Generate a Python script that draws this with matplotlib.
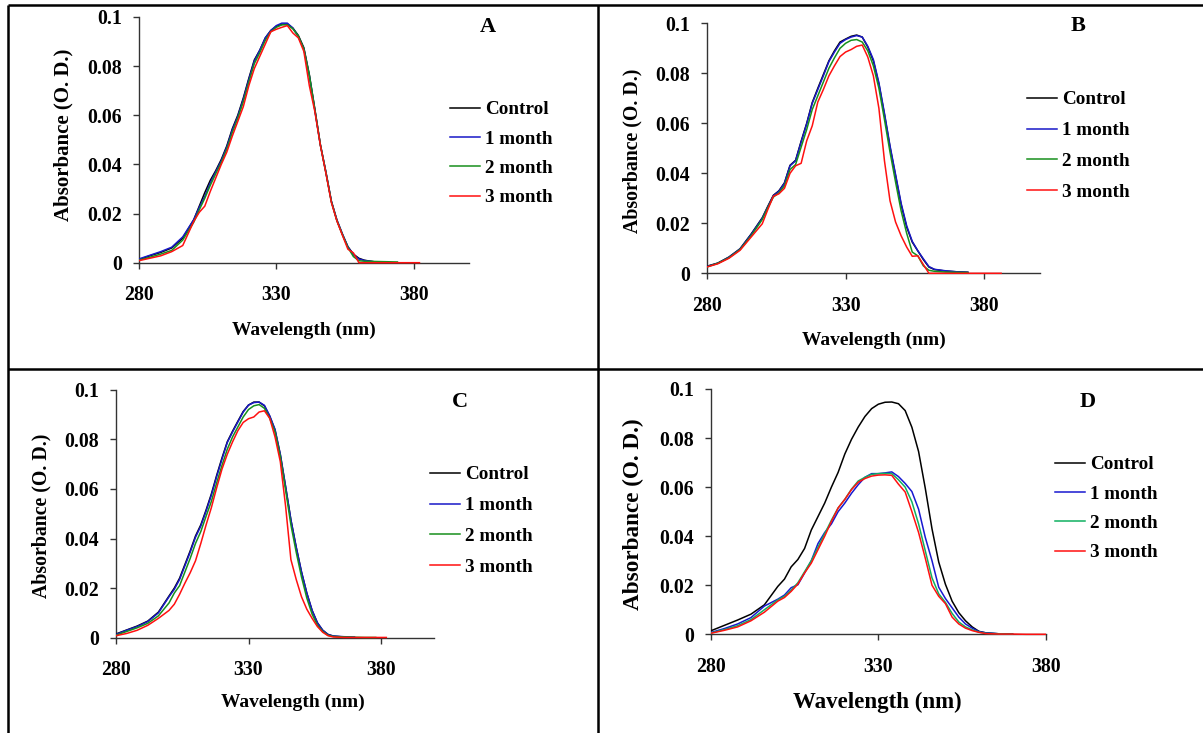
import numpy as np
import matplotlib
matplotlib.use('Agg')
import matplotlib.pyplot as plt
from matplotlib.lines import Line2D
from matplotlib.patches import Rectangle
from matplotlib.ticker import FuncFormatter

nan = np.nan

# wavelength grid (nm)
WL = [280, 284, 288, 292, 296, 300, 302, 304, 306, 308, 310, 312, 314, 316,
      318, 320, 322, 324, 326, 328, 330, 332, 334, 336, 338, 340, 342, 344,
      346, 348, 350, 352, 354, 356, 358, 360, 362, 366, 370, 374, 378, 382, 386]

# --- panel A ---
A_CONTROL = [0.0012, 0.0028, 0.0042, 0.0060, 0.0100, 0.0175, 0.0230, 0.0285, 0.0335, 0.0375, 0.0420, 0.0475, 0.0545, 0.0600,
             0.0670, 0.0750, 0.0825, 0.0865, 0.0915, 0.0945, 0.0962, 0.0970, 0.0972, 0.0955, 0.0925, 0.0875, 0.0765, 0.0625,
             0.0480, 0.0368, 0.0250, 0.0172, 0.0115, 0.0065, 0.0035, 0.0018, 0.0010, 0.0003, nan, nan, nan, nan, nan]
A_1M = [0.0015, 0.0030, 0.0045, 0.0063, 0.0105, 0.0175, 0.0225, 0.0270, 0.0325, 0.0370, 0.0415, 0.0470, 0.0540, 0.0595,
        0.0665, 0.0745, 0.0820, 0.0865, 0.0915, 0.0945, 0.0965, 0.0975, 0.0975, 0.0955, 0.0920, 0.0870, 0.0760, 0.0620,
        0.0480, 0.0370, 0.0250, 0.0175, 0.0118, 0.0065, 0.0032, 0.0015, 0.0009, 0.0003, nan, nan, nan, nan, nan]
A_2M = [0.0010, 0.0022, 0.0035, 0.0050, 0.0092, 0.0165, 0.0215, 0.0262, 0.0315, 0.0362, 0.0408, 0.0462, 0.0530, 0.0588,
        0.0655, 0.0735, 0.0810, 0.0855, 0.0905, 0.0940, 0.0958, 0.0968, 0.0968, 0.0952, 0.0922, 0.0870, 0.0762, 0.0622,
        0.0480, 0.0368, 0.0248, 0.0172, 0.0115, 0.0062, 0.0025, 0.0008, 0.0006, 0.0005, 0.0004, 0.0003, nan, nan, nan]
A_3M = [0.0008, 0.0018, 0.0028, 0.0045, 0.0070, 0.0168, 0.0205, 0.0230, 0.0290, 0.0345, 0.0400, 0.0450, 0.0515, 0.0575,
        0.0635, 0.0720, 0.0790, 0.0840, 0.0890, 0.0940, 0.0950, 0.0958, 0.0965, 0.0935, 0.0915, 0.0860, 0.0720, 0.0615,
        0.0478, 0.0365, 0.0245, 0.0170, 0.0112, 0.0055, 0.0040, 0.0000, 0.0000, 0.0000, 0.0000, 0.0000, 0.0000, 0.0000, nan]

# --- panel B ---
B_CONTROL = [0.0028, 0.0041, 0.0065, 0.0098, 0.0157, 0.0222, 0.0268, 0.0312, 0.0330, 0.0362, 0.0432, 0.0452, 0.0528, 0.0600,
             0.0683, 0.0740, 0.0795, 0.0850, 0.0890, 0.0925, 0.0937, 0.0948, 0.0953, 0.0945, 0.0905, 0.0850, 0.0757, 0.0635,
             0.0505, 0.0390, 0.0275, 0.0185, 0.0125, 0.0090, 0.0055, 0.0025, 0.0015, 0.0009, 0.0006, 0.0004, nan, nan, nan]
B_1M = [0.0027, 0.0040, 0.0064, 0.0097, 0.0155, 0.0220, 0.0265, 0.0310, 0.0328, 0.0360, 0.0430, 0.0450, 0.0525, 0.0597,
        0.0680, 0.0735, 0.0790, 0.0847, 0.0885, 0.0920, 0.0935, 0.0945, 0.0951, 0.0945, 0.0908, 0.0855, 0.0762, 0.0640,
        0.0510, 0.0395, 0.0280, 0.0190, 0.0128, 0.0090, 0.0058, 0.0027, 0.0016, 0.0010, 0.0006, 0.0004, nan, nan, nan]
B_2M = [0.0025, 0.0040, 0.0062, 0.0095, 0.0150, 0.0215, 0.0262, 0.0305, 0.0322, 0.0350, 0.0415, 0.0435, 0.0505, 0.0575,
        0.0655, 0.0710, 0.0765, 0.0820, 0.0862, 0.0900, 0.0920, 0.0932, 0.0935, 0.0925, 0.0890, 0.0830, 0.0740, 0.0615,
        0.0485, 0.0365, 0.0250, 0.0160, 0.0085, 0.0070, 0.0030, 0.0012, 0.0008, 0.0005, 0.0004, 0.0003, nan, nan, nan]
B_3M = [0.0025, 0.0038, 0.0060, 0.0092, 0.0145, 0.0198, 0.0255, 0.0308, 0.0318, 0.0340, 0.0400, 0.0430, 0.0440, 0.0530,
        0.0590, 0.0685, 0.0735, 0.0790, 0.0830, 0.0867, 0.0885, 0.0895, 0.0908, 0.0913, 0.0865, 0.0790, 0.0660, 0.0450,
        0.0290, 0.0205, 0.0150, 0.0105, 0.0068, 0.0070, 0.0035, 0.0000, 0.0000, 0.0000, 0.0000, 0.0000, 0.0000, 0.0000, 0.0000]

# --- panel C ---
C_CONTROL = [0.0015, 0.0031, 0.0047, 0.0067, 0.0103, 0.0168, 0.0200, 0.0240, 0.0295, 0.0350, 0.0410, 0.0455, 0.0515, 0.0580,
             0.0655, 0.0725, 0.0790, 0.0833, 0.0873, 0.0912, 0.0938, 0.0950, 0.0950, 0.0935, 0.0893, 0.0838, 0.0738, 0.0608,
             0.0475, 0.0365, 0.0265, 0.0180, 0.0110, 0.0060, 0.0030, 0.0013, 0.0006, 0.0003, nan, nan, nan, nan, nan]
C_1M = [0.0013, 0.0030, 0.0045, 0.0065, 0.0100, 0.0165, 0.0195, 0.0235, 0.0290, 0.0345, 0.0405, 0.0450, 0.0510, 0.0575,
        0.0650, 0.0720, 0.0787, 0.0830, 0.0870, 0.0910, 0.0938, 0.0948, 0.0950, 0.0937, 0.0895, 0.0840, 0.0740, 0.0610,
        0.0475, 0.0365, 0.0265, 0.0180, 0.0110, 0.0060, 0.0030, 0.0013, 0.0007, 0.0004, 0.0003, nan, nan, nan, nan]
C_2M = [0.0010, 0.0025, 0.0040, 0.0058, 0.0088, 0.0140, 0.0180, 0.0210, 0.0265, 0.0320, 0.0380, 0.0428, 0.0490, 0.0550,
        0.0625, 0.0695, 0.0760, 0.0810, 0.0850, 0.0890, 0.0920, 0.0935, 0.0940, 0.0925, 0.0885, 0.0830, 0.0730, 0.0595,
        0.0455, 0.0345, 0.0245, 0.0160, 0.0095, 0.0050, 0.0025, 0.0010, 0.0005, 0.0003, 0.0002, 0.0001, 0.0001, nan, nan]
C_3M = [0.0008, 0.0017, 0.0030, 0.0050, 0.0078, 0.0110, 0.0135, 0.0175, 0.0220, 0.0262, 0.0310, 0.0380, 0.0455, 0.0525,
        0.0605, 0.0680, 0.0740, 0.0790, 0.0835, 0.0868, 0.0883, 0.0890, 0.0910, 0.0915, 0.0885, 0.0810, 0.0710, 0.0530,
        0.0315, 0.0235, 0.0165, 0.0115, 0.0078, 0.0045, 0.0022, 0.0008, 0.0003, 0.0001, 0.0001, 0.0001, 0.0001, 0.0001, nan]

# --- panel D ---
D_CONTROL = [0.0014, 0.0036, 0.0058, 0.0082, 0.0120, 0.0195, 0.0225, 0.0275, 0.0305, 0.0350, 0.0425, 0.0480, 0.0535, 0.0600,
             0.0660, 0.0735, 0.0795, 0.0845, 0.0888, 0.0920, 0.0938, 0.0946, 0.0947, 0.0940, 0.0912, 0.0844, 0.0745, 0.0595,
             0.0430, 0.0295, 0.0204, 0.0135, 0.0088, 0.0055, 0.0030, 0.0012, 0.0006, 0.0002, 0.0001, nan, nan, nan, nan]
D_1M = [0.0007, 0.0023, 0.0042, 0.0068, 0.0115, 0.0143, 0.0160, 0.0190, 0.0202, 0.0250, 0.0300, 0.0370, 0.0415, 0.0450,
        0.0500, 0.0535, 0.0575, 0.0610, 0.0640, 0.0655, 0.0655, 0.0658, 0.0662, 0.0643, 0.0615, 0.0582, 0.0510, 0.0395,
        0.0300, 0.0192, 0.0146, 0.0108, 0.0070, 0.0042, 0.0025, 0.0011, 0.0006, 0.0002, 0.0001, nan, nan, nan, nan]
D_2M = [0.0005, 0.0019, 0.0035, 0.0060, 0.0100, 0.0140, 0.0155, 0.0180, 0.0210, 0.0255, 0.0300, 0.0355, 0.0410, 0.0465,
        0.0515, 0.0550, 0.0592, 0.0625, 0.0640, 0.0652, 0.0655, 0.0656, 0.0655, 0.0630, 0.0600, 0.0540, 0.0450, 0.0340,
        0.0230, 0.0165, 0.0130, 0.0085, 0.0050, 0.0030, 0.0018, 0.0009, 0.0004, 0.0002, 0.0001, nan, nan, nan, nan]
D_3M = [0.0004, 0.0016, 0.0030, 0.0055, 0.0090, 0.0135, 0.0150, 0.0175, 0.0205, 0.0250, 0.0290, 0.0345, 0.0400, 0.0460,
        0.0515, 0.0550, 0.0590, 0.0620, 0.0635, 0.0645, 0.0649, 0.0650, 0.0648, 0.0612, 0.0580, 0.0500, 0.0415, 0.0310,
        0.0200, 0.0155, 0.0125, 0.0070, 0.0042, 0.0025, 0.0015, 0.0008, 0.0003, 0.0001, 0.0001, 0.0000, 0.0000, 0.0000, nan]

LABELS = ['Control', '1 month', '2 month', '3 month']
COLORS = ['#000000', '#1818c8', '#17901c', '#ff1010']
D_COLORS = ['#000000', '#1818d0', '#10b060', '#ff1010']
X_TICKS = [280, 330, 380]
Y_TICKS = [0, 0.02, 0.04, 0.06, 0.08, 0.1]

W, H = 1203, 733
plt.rcParams['font.family'] = ['Liberation Serif', 'DejaVu Serif']
plt.rcParams['font.weight'] = 'bold'

fig = plt.figure(figsize=(W / 100, H / 100), dpi=100)


def fx(x):
    return x / W


def fy(y):
    return 1 - y / H


# layout in pixels: axes box (left, top, right, bottom), letter centre, legend top-left
panels = [
    dict(letter='A', data=[A_CONTROL, A_1M, A_2M, A_3M], colors=COLORS,
         box=(138.7, 17, 469, 262.7), xmax=400, let=(488, 27), leg=(450, 101), lsp=0.62,
         ylab=(-0.229, 0.52, 15.0), xlab=(0.50, -0.274, 14.0)),
    dict(letter='B', data=[B_CONTROL, B_1M, B_2M, B_3M], colors=COLORS,
         box=(706.7, 23.3, 1040, 273.3), xmax=400, let=(1078, 26), leg=(1027, 91), lsp=0.7,
         ylab=(-0.224, 0.49, 14.3), xlab=(0.502, -0.267, 14.0)),
    dict(letter='C', data=[C_CONTROL, C_1M, C_2M, C_3M], colors=COLORS,
         box=(116, 389.7, 434, 637.7), xmax=400, let=(460, 402), leg=(430, 466), lsp=0.7,
         ylab=(-0.233, 0.49, 14.3), xlab=(0.557, -0.259, 14.0)),
    dict(letter='D', data=[D_CONTROL, D_1M, D_2M, D_3M], colors=D_COLORS,
         box=(710.7, 389, 1046, 634.3), xmax=380, let=(1088, 402), leg=(1055, 456), lsp=0.62,
         ylab=(-0.229, 0.49, 16.7), xlab=(0.496, -0.276, 16.5)),
]

fmt = FuncFormatter(lambda v, p: '0' if abs(v) < 1e-9 else f'{v:g}')

for pn in panels:
    x0, y0, x1, y1 = pn['box']
    ax = fig.add_axes([fx(x0), fy(y1), (x1 - x0) / W, (y1 - y0) / H])
    ax.set_xlim(280, pn['xmax'])
    ax.set_ylim(0, 0.1)

    clip = Rectangle((0, -0.05), 1, 1.1, transform=ax.transAxes)
    handles = []
    for vals, col in zip(pn['data'], pn['colors']):
        ln, = ax.plot(WL, vals, color=col, lw=1.1, zorder=3)
        ln.set_clip_path(clip)
        handles.append(ln)

    for s in ['top', 'right']:
        ax.spines[s].set_visible(False)
    for s in ['left', 'bottom']:
        ax.spines[s].set_color('#333333')
        ax.spines[s].set_linewidth(1.0)

    ax.set_xticks(X_TICKS)
    ax.set_yticks(Y_TICKS)
    ax.yaxis.set_major_formatter(fmt)
    ax.tick_params(axis='both', direction='out', length=4, width=1, color='#333333', labelsize=14.3)
    ax.tick_params(axis='x', pad=12)
    ax.tick_params(axis='y', pad=8)

    yx, yy, ys = pn['ylab']
    ax.set_ylabel('Absorbance (O. D.)', fontsize=ys, fontweight='bold')
    ax.yaxis.set_label_coords(yx, yy)
    ax.yaxis.label.set_va('center')
    xx, xy, xs = pn['xlab']
    ax.set_xlabel('Wavelength (nm)', fontsize=xs, fontweight='bold')
    ax.xaxis.set_label_coords(xx, xy)
    ax.xaxis.label.set_va('center')

    lx, ly = pn['leg']
    ax.legend(handles, LABELS, loc='upper left', bbox_to_anchor=(fx(lx), fy(ly)),
              bbox_transform=fig.transFigure, frameon=False, borderpad=0,
              borderaxespad=0, handlelength=1.55, handletextpad=0.27,
              labelspacing=pn['lsp'], prop=dict(size=13.8, weight='bold'))

    cx, cy = pn['let']
    fig.text(fx(cx), fy(cy), pn['letter'], ha='center', va='center',
             fontsize=16, fontweight='bold')

# panel frame lines
frame = [((8, 4.5), (1203, 4.5)), ((8, 4.5), (8, 733)),
         ((598, 4.5), (598, 733)), ((8, 368.5), (1203, 368.5))]
for (xa, ya), (xb, yb) in frame:
    fig.add_artist(Line2D([fx(xa), fx(xb)], [fy(ya), fy(yb)], transform=fig.transFigure,
                          color='black', lw=1.8, solid_capstyle='butt'))

fig.savefig('out.png', dpi=100)
